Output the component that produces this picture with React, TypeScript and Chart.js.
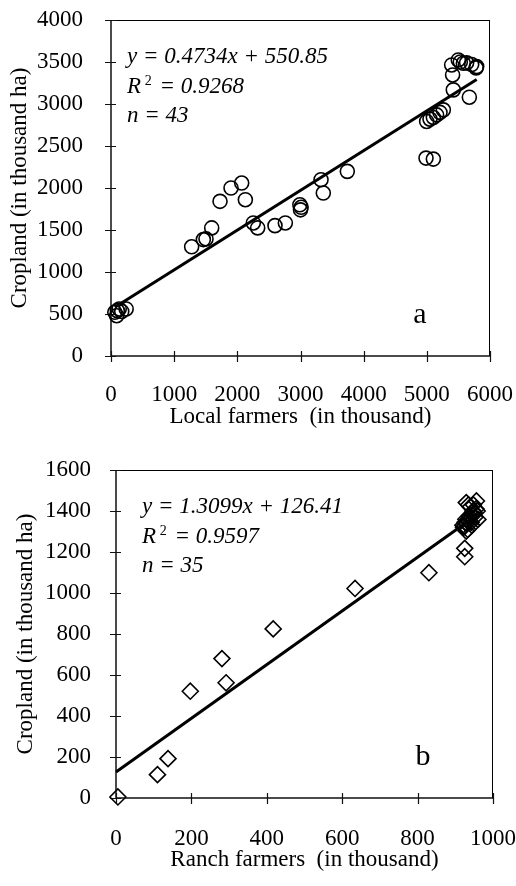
import React, { useEffect, useRef } from "react";
import { Chart, registerables } from "chart.js";

Chart.register(...registerables);

const FONT = "'Liberation Serif', 'Times New Roman', serif";

// Panel a: local farmers (thousand) vs cropland (thousand ha)
const localFarmers = [
  90, 100, 130, 170, 240, 60, 1277, 1462, 1504, 1594, 1726, 1900, 2069, 2127, 2253,
  2322, 2596, 2760, 2990, 3010, 3000, 3325, 3361, 3741, 4987, 5103, 4997, 5050, 5103,
  5155, 5208, 5261, 5419, 5408, 5393, 5498, 5578, 5630, 5710, 5789, 5780, 5673, 5530,
];
const croplandA = [
  480, 540, 560, 530, 560, 520, 1300, 1386, 1394, 1525, 1841, 2000, 2059, 1861, 1584,
  1525, 1552, 1584, 1800, 1770, 1740, 2099, 1940, 2198, 2356, 2344, 2792, 2820, 2840,
  2870, 2900, 2930, 3168, 3346, 3465, 3524, 3485, 3490, 3470, 3445, 3430, 3081, 3500,
];

// Panel b: ranch farmers (thousand) vs cropland (thousand ha)
const ranchFarmers = [
  5, 110, 138, 197, 281, 292, 417, 634, 830, 925, 925,
  929, 956, 925, 929, 938, 947, 960, 935, 920, 922, 930, 940, 945, 950, 955, 935, 928,
  942, 952, 958, 933, 944, 948, 926,
];
const croplandB = [
  5, 114, 192, 521, 680, 562, 825, 1022, 1099, 1218, 1177,
  1441, 1449, 1327, 1302, 1376, 1400, 1359, 1350, 1330, 1320, 1340, 1420, 1380, 1390,
  1410, 1430, 1360, 1345, 1370, 1400, 1310, 1330, 1430, 1345,
];

const fitA = { slope: 0.4734, intercept: 550.85, eq: "y = 0.4734x + 550.85", r2: "0.9268", n: "43", x0: 60 };
const fitB = { slope: 1.3099, intercept: 126.41, eq: "y = 1.3099x + 126.41", r2: "0.9597", n: "35", x0: 0 };

const xTicksA = { min: 0, max: 6000, step: 1000 };
const yTicksA = { min: 0, max: 4000, step: 500 };
const xTicksB = { min: 0, max: 1000, step: 200 };
const yTicksB = { min: 0, max: 1600, step: 200 };

type PanelCfg = {
  xs: number[];
  ys: number[];
  fit: typeof fitA;
  xT: typeof xTicksA;
  yT: typeof yTicksA;
  xTitle: string;
  letter: string;
  pointStyle: string;
  pointRadius: number;
  pad: { top: number; right: number };
  yWidth: number;
  xHeight: number;
  yTitlePad: number;
  xTitlePad: number;
  xTickPad: number;
  yTickPad: number;
  eqDx: number;
};

const framePlugin = {
  id: "frameAnno",
  beforeDatasetsDraw(chart: any) {
    const { ctx, chartArea, scales } = chart;
    const { left, right, top, bottom } = chartArea;
    ctx.save();
    ctx.strokeStyle = "#000";
    ctx.lineWidth = 1;
    ctx.beginPath();
    ctx.moveTo(left, top + 0.5);
    ctx.lineTo(right, top + 0.5);
    ctx.moveTo(right - 0.5, top);
    ctx.lineTo(right - 0.5, bottom);
    ctx.stroke();
    ctx.lineWidth = 1.5;
    ctx.strokeStyle = "#111";
    ctx.beginPath();
    ctx.moveTo(left, top);
    ctx.lineTo(left, bottom);
    ctx.lineTo(right, bottom);
    ctx.stroke();
    ctx.lineWidth = 1.2;
    ctx.beginPath();
    scales.x.ticks.forEach((t: any) => {
      const px = Math.round(scales.x.getPixelForValue(t.value)) + 0.5;
      ctx.moveTo(px, bottom - 5);
      ctx.lineTo(px, bottom + 6);
    });
    scales.y.ticks.forEach((t: any) => {
      const py = Math.round(scales.y.getPixelForValue(t.value)) + 0.5;
      ctx.moveTo(left - 6, py);
      ctx.lineTo(left + 5, py);
    });
    ctx.stroke();
    ctx.restore();
  },
  afterDatasetsDraw(chart: any, _a: any, opts: any) {
    const { ctx, chartArea } = chart;
    const { left, right, top, bottom } = chartArea;
    ctx.save();
    ctx.fillStyle = "#000";
    ctx.textBaseline = "middle";
    ctx.textAlign = "left";
    const x0 = left + opts.eqDx;
    ctx.font = `italic 23px ${FONT}`;
    ctx.fillText(opts.eq, x0, top + 37);
    // R^2 line
    ctx.fillText("R", x0, top + 67);
    let w = ctx.measureText("R ").width;
    ctx.font = `14px ${FONT}`;
    ctx.fillText("2", x0 + w - 2, top + 61);
    w += ctx.measureText("2").width;
    ctx.font = `italic 23px ${FONT}`;
    ctx.fillText(" = " + opts.r2, x0 + w, top + 67);
    ctx.fillText("n = " + opts.n, x0, top + 96);
    ctx.font = `30px ${FONT}`;
    ctx.textAlign = "center";
    ctx.textBaseline = "alphabetic";
    ctx.fillText(opts.letter, right - 70, bottom - 33);
    ctx.restore();
  },
};

function Panel({ cfg }: { cfg: PanelCfg }) {
  const ref = useRef<HTMLCanvasElement>(null);
  useEffect(() => {
    if (!ref.current) return;
    const xMin = cfg.fit.x0;
    const xMax = Math.max(...cfg.xs);
    const trend = [
      { x: xMin, y: cfg.fit.slope * xMin + cfg.fit.intercept },
      { x: xMax, y: cfg.fit.slope * xMax + cfg.fit.intercept },
    ];
    const pts = cfg.xs.map((x, i) => ({ x, y: cfg.ys[i] }));
    const fontT = { family: FONT, size: 23 };
    const zeroPad = (s: any) => {
      s.paddingLeft = 0;
      s.paddingRight = 0;
      s.paddingTop = 0;
      s.paddingBottom = 0;
    };
    const chart = new Chart(ref.current, {
      type: "scatter",
      data: {
        datasets: [
          {
            type: "line",
            data: trend,
            borderColor: "#000",
            borderWidth: 3,
            pointRadius: 0,
            fill: false,
            clip: false,
          } as any,
          {
            data: pts,
            pointStyle: cfg.pointStyle as any,
            pointRadius: cfg.pointRadius,
            pointBorderWidth: 1.6,
            pointBorderColor: "#000",
            pointBackgroundColor: "rgba(0,0,0,0)",
            showLine: false,
            clip: false,
          } as any,
        ],
      },
      options: {
        responsive: false,
        animation: false,
        devicePixelRatio: 1,
        layout: { padding: { top: cfg.pad.top, right: cfg.pad.right, left: 0, bottom: 0 } },
        plugins: {
          legend: { display: false },
          tooltip: { enabled: false },
          frameAnno: { eq: cfg.fit.eq, r2: cfg.fit.r2, n: cfg.fit.n, letter: cfg.letter, eqDx: cfg.eqDx },
        } as any,
        scales: {
          x: {
            type: "linear",
            min: cfg.xT.min,
            max: cfg.xT.max,
            ticks: {
              stepSize: cfg.xT.step,
              padding: cfg.xTickPad,
              font: fontT,
              color: "#000",
              maxRotation: 0,
              autoSkip: false,
              callback: (v: any) => String(v),
            },
            grid: { display: false },
            border: { display: false },
            title: {
              display: true,
              text: cfg.xTitle,
              font: fontT,
              color: "#000",
              padding: { top: 0, bottom: cfg.xTitlePad },
            },
            afterFit: (s: any) => {
              s.height = cfg.xHeight;
              zeroPad(s);
            },
          },
          y: {
            type: "linear",
            min: cfg.yT.min,
            max: cfg.yT.max,
            ticks: {
              stepSize: cfg.yT.step,
              padding: cfg.yTickPad,
              font: fontT,
              color: "#000",
              autoSkip: false,
              callback: (v: any) => String(v),
            },
            grid: { display: false },
            border: { display: false },
            title: {
              display: true,
              text: "Cropland (in thousand ha)",
              font: fontT,
              color: "#000",
              padding: { top: cfg.yTitlePad, bottom: 0 },
            },
            afterFit: (s: any) => {
              s.width = cfg.yWidth;
              zeroPad(s);
            },
          },
        },
      } as any,
      plugins: [framePlugin as any],
    });
    return () => chart.destroy();
  }, [cfg]);
  return <canvas ref={ref} width={516} height={443} style={{ display: "block", width: 516, height: 443 }} />;
}

const panelA: PanelCfg = {
  xs: localFarmers,
  ys: croplandA,
  fit: fitA,
  xT: xTicksA,
  yT: yTicksA,
  xTitle: "Local farmers  (in thousand)",
  letter: "a",
  pointStyle: "circle",
  pointRadius: 7,
  pad: { top: 20, right: 26 },
  yWidth: 111,
  xHeight: 87,
  yTitlePad: 6,
  xTitlePad: 12,
  xTickPad: 17,
  yTickPad: 20,
  eqDx: 16,
};

const panelB: PanelCfg = {
  xs: ranchFarmers,
  ys: croplandB,
  fit: fitB,
  xT: xTicksB,
  yT: yTicksB,
  xTitle: "Ranch farmers  (in thousand)",
  letter: "b",
  pointStyle: "rectRot",
  pointRadius: 8,
  pad: { top: 27, right: 23 },
  yWidth: 116,
  xHeight: 88,
  yTitlePad: 12,
  xTitlePad: 12,
  xTickPad: 19,
  yTickPad: 17,
  eqDx: 26,
};

export default function App() {
  return (
    <div style={{ position: "absolute", left: 0, top: 0, width: 516, height: 886, background: "#fff" }}>
      <Panel cfg={panelA} />
      <Panel cfg={panelB} />
    </div>
  );
}
